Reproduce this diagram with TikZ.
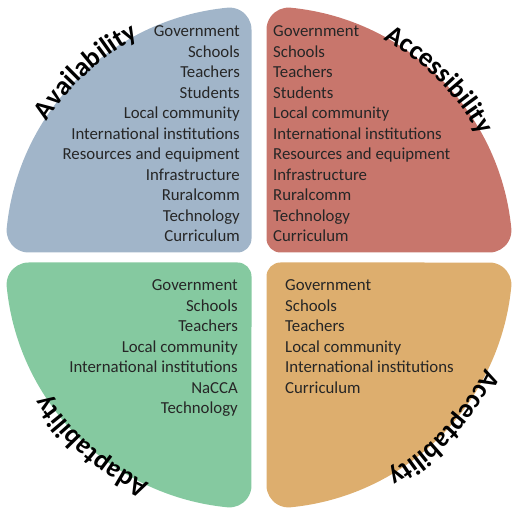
\documentclass[tikz,border=0pt]{standalone}
\usepackage{fontspec}
\setmainfont{Carlito}
\usepackage{xcolor}
\usetikzlibrary{calc, decorations.text}
\definecolor{availBlue}{HTML}{A1B5C9}
\definecolor{accessRed}{HTML}{C8766C}
\definecolor{adaptGreen}{HTML}{85C9A0}
\definecolor{acceptOrange}{HTML}{DDAE6E}

\begin{document}
\begin{tikzpicture}[x=1pt,y=1pt]
				\newcommand{\myfontitems}[1]{
					\fontsize{16.8}{20.5}\selectfont{#1}
				}\newcommand{\myfontlabels}{\fontsize{27}{30}\selectfont\bfseries}%Outer frame
				\useasboundingbox (0,0) rectangle (515,509);
				%Inner corners of the four quarters
				\coordinate (cornerTL) at (251.5,256.5);
				\coordinate (cornerTR) at (266.5,256.5);
				\coordinate (cornerBL) at (251.5,246.5);
				\coordinate (cornerBR) at (266.5,246.5);
				%Radius of the quarters, outer and inner rounding
				\pgfmathsetmacro{\bigR}{246}
				\pgfmathsetmacro{\smallr}{22}
				\pgfmathsetmacro{\innerr}{14}
				\pgfmathsetmacro{\edgeA}{10*sqrt(((\bigR-\smallr)/10)^2-(\smallr/10)^2)}
				\pgfmathsetmacro{\phiA}{asin(\smallr/(\bigR-\smallr))}
				%The four quarters, one shape turned round the corner
				\foreach \corner/\turn/\col in {cornerTR/0/accessRed, cornerTL/90/availBlue, cornerBL/180/adaptGreen, cornerBR/270/acceptOrange} {
					\fill[\col, shift={(\corner)}, rotate=\turn] (\innerr,0) -- (\edgeA,0)
						arc[start angle=-90, end angle=\phiA, radius=\smallr]
						arc[start angle=\phiA, end angle=90-\phiA, radius=\bigR]
						arc[start angle=90-\phiA, end angle=180, radius=\smallr]
						-- (0,\innerr)
						arc[start angle=180, end angle=270, radius=\innerr] -- cycle;
				}
				%Curved titles on the outer arcs
				\path[shift={(cornerTL)}, decorate, decoration={text along path, text align=center, text={|\myfontlabels|Availability}}]
					(170:243) arc[start angle=170, end angle=95, radius=243];
				\path[shift={(cornerTR)}, decorate, decoration={text along path, text align=center, text={|\myfontlabels|Accessibility}}]
					(82.5:243) arc[start angle=82.5, end angle=7.5, radius=243];
				\path[shift={(cornerBR)}, decorate, decoration={text along path, text align=center, text={|\myfontlabels|Acceptability}}]
					(-5:243) arc[start angle=-5, end angle=-81, radius=243];
				\path[shift={(cornerBL)}, decorate, decoration={text along path, text align=center, text={|\myfontlabels|Adaptability}}]
					(266:243) arc[start angle=266, end angle=192, radius=243];
				%Lists of actors
				\foreach \entry [count=\i] in {Government, Schools, Teachers, Students, Local community, International institutions, Resources and equipment, Infrastructure, Ruralcomm, Technology, Curriculum} {
					\node [anchor=base east, inner sep=0pt, text=black!85] (avail\i) at (240,472-20.5*\i+20.5) {\myfontitems{\entry}};
				}
				\foreach \entry [count=\i] in {Government, Schools, Teachers, Students, Local community, International institutions, Resources and equipment, Infrastructure, Ruralcomm, Technology, Curriculum} {
					\node [anchor=base west, inner sep=0pt, text=black!85] (access\i) at (273,472-20.5*\i+20.5) {\myfontitems{\entry}};
				}
				\foreach \entry [count=\i] in {Government, Schools, Teachers, Local community, International institutions, NaCCA, Technology} {
					\node [anchor=base east, inner sep=0pt, text=black!85] (adapt\i) at (238,218-20.5*\i+20.5) {\myfontitems{\entry}};
				}
				\foreach \entry [count=\i] in {Government, Schools, Teachers, Local community, International institutions, Curriculum} {
					\node [anchor=base west, inner sep=0pt, text=black!85] (accept\i) at (285,218-20.5*\i+20.5) {\myfontitems{\entry}};
				}
\end{tikzpicture}
\end{document}
